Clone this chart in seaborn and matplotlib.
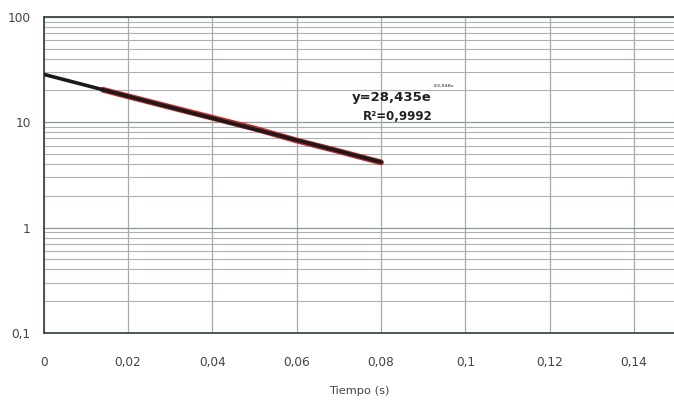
import numpy as np
import pandas as pd
import matplotlib
matplotlib.use("Agg")
import matplotlib.pyplot as plt
import seaborn as sns
from matplotlib.ticker import FixedLocator, LogLocator, NullFormatter

# Data
t_data = [0.014, 0.02, 0.03, 0.04, 0.05, 0.06, 0.07, 0.08]
v_data = [20.3, 17.6, 13.9, 11.0, 8.7, 6.7, 5.3, 4.15]
t_fit = [0.0, 0.08]
v_fit = [28.435, 4.18]
x_ticks = [0, 0.02, 0.04, 0.06, 0.08, 0.1, 0.12, 0.14]
x_labels = ["0", "0,02", "0,04", "0,06", "0,08", "0,1", "0,12", "0,14"]
y_ticks = [0.1, 1, 10, 100]
y_labels = ["0,1", "1", "10", "100"]
eq_text = "y=28,435e"
eq_sup = "-23,948x"
r2_text = "R²=0,9992"
x_title = "Tiempo (s)"

sns.set_theme(style="white")
plt.rcParams['font.family'] = ['DejaVu Sans']

fig = plt.figure(figsize=(6.74, 4.01), dpi=100)
ax = fig.add_axes([0.065, 0.170, 0.935, 0.788])

df_data = pd.DataFrame({"t": t_data, "v": v_data})
df_fit = pd.DataFrame({"t": t_fit, "v": v_fit})

ax.set_yscale("log")
ax.set_xlim(0, 0.1495)
ax.set_ylim(0.1, 100)

sns.lineplot(data=df_data, x="t", y="v", ax=ax, color="#c0262c", linewidth=4.2, zorder=3)
sns.lineplot(data=df_fit, x="t", y="v", ax=ax, color="#1a1a1a", linewidth=2.6, zorder=4)

ax.xaxis.set_major_locator(FixedLocator(x_ticks))
ax.set_xticklabels(x_labels)
ax.yaxis.set_major_locator(FixedLocator(y_ticks))
ax.set_yticklabels(y_labels)
ax.yaxis.set_minor_locator(LogLocator(base=10, subs=np.arange(2, 10)))
ax.yaxis.set_minor_formatter(NullFormatter())

ax.grid(True, which="major", axis="y", color="#8f9a98", linewidth=0.9)
ax.grid(True, which="major", axis="x", color="#a3acaa", linewidth=0.9)
ax.grid(True, which="minor", axis="y", color="#a9b2b0", linewidth=0.8)
ax.set_axisbelow(True)

for s in ["left", "bottom", "top"]:
    ax.spines[s].set_color("#3d4a48")
    ax.spines[s].set_linewidth(1.3)
ax.spines["right"].set_visible(False)

ax.tick_params(axis="both", which="both", length=0, labelsize=8.7, colors="#444444")
ax.tick_params(axis="x", pad=17)
ax.tick_params(axis="y", pad=9.5)
ax.set_xlabel(x_title, fontsize=8.2, color="#444444", labelpad=12)
ax.set_ylabel("")

ax.text(0.0731, 15.85, eq_text, fontsize=9.5, fontweight="bold", color="#222222", ha="left", va="baseline")
ax.text(0.0922, 21.5, eq_sup, fontsize=3.2, fontweight="bold", color="#666666", ha="left", va="baseline")
ax.text(0.0757, 10.45, r2_text, fontsize=8.5, fontweight="bold", color="#222222", ha="left", va="baseline")

fig.savefig("out.png", dpi=100, facecolor="white")
